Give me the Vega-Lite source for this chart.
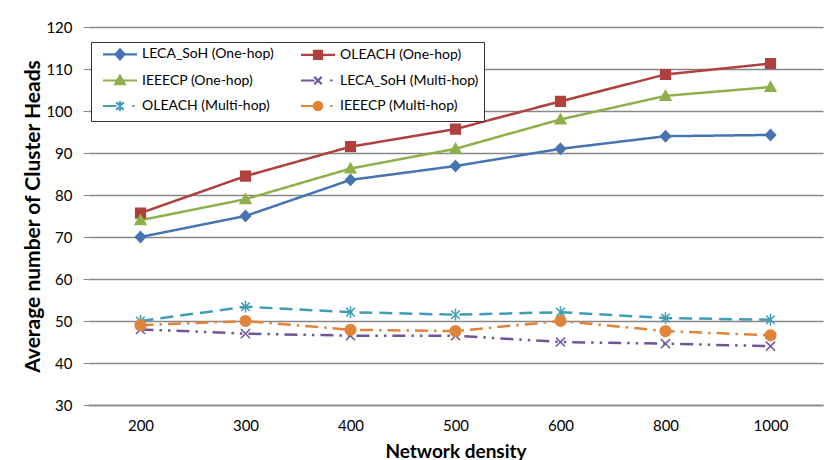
{
  "$schema": "https://vega.github.io/schema/vega-lite/v6.json",
  "autosize": "none",
  "width": 735,
  "height": 378,
  "padding": {"left": 88, "top": 27, "right": 5, "bottom": 55},
  "background": "white",
  "config": {
    "font": "Lato",
    "view": {"stroke": null},
    "axis": {"labelFont": "Lato", "titleFont": "Lato", "labelColor": "#000", "titleColor": "#000"},
    "legend": {"symbolOpacity": 1}
  },
  "data": {
    "values": [
      {"density": "200", "series": "LECA_SoH (One-hop)", "value": 70},
      {"density": "300", "series": "LECA_SoH (One-hop)", "value": 75},
      {"density": "400", "series": "LECA_SoH (One-hop)", "value": 83.6},
      {"density": "500", "series": "LECA_SoH (One-hop)", "value": 86.9},
      {"density": "600", "series": "LECA_SoH (One-hop)", "value": 91},
      {"density": "800", "series": "LECA_SoH (One-hop)", "value": 94},
      {"density": "1000", "series": "LECA_SoH (One-hop)", "value": 94.3},
      {"density": "200", "series": "OLEACH (One-hop)", "value": 75.7},
      {"density": "300", "series": "OLEACH (One-hop)", "value": 84.5},
      {"density": "400", "series": "OLEACH (One-hop)", "value": 91.5},
      {"density": "500", "series": "OLEACH (One-hop)", "value": 95.7},
      {"density": "600", "series": "OLEACH (One-hop)", "value": 102.3},
      {"density": "800", "series": "OLEACH (One-hop)", "value": 108.7},
      {"density": "1000", "series": "OLEACH (One-hop)", "value": 111.3},
      {"density": "200", "series": "IEEECP (One-hop)", "value": 74},
      {"density": "300", "series": "IEEECP (One-hop)", "value": 79},
      {"density": "400", "series": "IEEECP (One-hop)", "value": 86.3},
      {"density": "500", "series": "IEEECP (One-hop)", "value": 91},
      {"density": "600", "series": "IEEECP (One-hop)", "value": 98},
      {"density": "800", "series": "IEEECP (One-hop)", "value": 103.6},
      {"density": "1000", "series": "IEEECP (One-hop)", "value": 105.7},
      {"density": "200", "series": "LECA_SoH (Multi-hop)", "value": 48},
      {"density": "300", "series": "LECA_SoH (Multi-hop)", "value": 47},
      {"density": "400", "series": "LECA_SoH (Multi-hop)", "value": 46.5},
      {"density": "500", "series": "LECA_SoH (Multi-hop)", "value": 46.5},
      {"density": "600", "series": "LECA_SoH (Multi-hop)", "value": 45},
      {"density": "800", "series": "LECA_SoH (Multi-hop)", "value": 44.6},
      {"density": "1000", "series": "LECA_SoH (Multi-hop)", "value": 44},
      {"density": "200", "series": "OLEACH (Multi-hop)", "value": 50},
      {"density": "300", "series": "OLEACH (Multi-hop)", "value": 53.4},
      {"density": "400", "series": "OLEACH (Multi-hop)", "value": 52.1},
      {"density": "500", "series": "OLEACH (Multi-hop)", "value": 51.5},
      {"density": "600", "series": "OLEACH (Multi-hop)", "value": 52.1},
      {"density": "800", "series": "OLEACH (Multi-hop)", "value": 50.7},
      {"density": "1000", "series": "OLEACH (Multi-hop)", "value": 50.3},
      {"density": "200", "series": "IEEECP (Multi-hop)", "value": 49},
      {"density": "300", "series": "IEEECP (Multi-hop)", "value": 50},
      {"density": "400", "series": "IEEECP (Multi-hop)", "value": 47.9},
      {"density": "500", "series": "IEEECP (Multi-hop)", "value": 47.6},
      {"density": "600", "series": "IEEECP (Multi-hop)", "value": 50},
      {"density": "800", "series": "IEEECP (Multi-hop)", "value": 47.6},
      {"density": "1000", "series": "IEEECP (Multi-hop)", "value": 46.6}
    ]
  },
  "encoding": {
    "x": {
      "field": "density", "type": "ordinal", "sort": null,
      "scale": {"type": "point", "padding": 0.5},
      "axis": {
        "title": "Network density", "titleFontSize": 19, "titleFontWeight": "bold", "titlePadding": 9,
        "labelAngle": 0, "labelFontSize": 15, "labelPadding": 13,
        "ticks": false, "domainColor": "#888", "domainWidth": 1.3, "grid": false
      }
    },
    "y": {
      "field": "value", "type": "quantitative",
      "scale": {"domain": [30, 120], "nice": false, "zero": false},
      "axis": {
        "title": "Average number of Cluster Heads", "titleFontSize": 21, "titleFontWeight": "bold", "titlePadding": 2,
        "values": [30, 40, 50, 60, 70, 80, 90, 100, 110, 120],
        "labelFontSize": 15, "labelPadding": 11,
        "domain": false, "ticks": true, "tickSize": 5, "tickColor": "#888",
        "grid": true, "gridColor": "#888", "gridWidth": 1.3
      }
    }
  },
  "layer": [
    {
      "mark": {"type": "line", "strokeWidth": 2.5, "strokeCap": "butt"},
      "encoding": {
        "color": {
          "field": "series", "type": "nominal", "legend": null,
          "scale": {
            "domain": ["LECA_SoH (One-hop)", "OLEACH (One-hop)", "IEEECP (One-hop)", "LECA_SoH (Multi-hop)", "OLEACH (Multi-hop)", "IEEECP (Multi-hop)"],
            "range": ["#4674B0", "#B0403D", "#8EB04A", "#70559A", "#3F9DB5", "#E0843A"]
          }
        },
        "strokeDash": {
          "field": "series", "type": "nominal", "legend": null,
          "scale": {
            "domain": ["LECA_SoH (One-hop)", "OLEACH (One-hop)", "IEEECP (One-hop)", "LECA_SoH (Multi-hop)", "OLEACH (Multi-hop)", "IEEECP (Multi-hop)"],
            "range": [[1, 0], [1, 0], [1, 0], [13, 6, 2.5, 6, 2.5, 6], [13, 7], [13, 6, 2.5, 6]]
          }
        }
      }
    },
    {
      "mark": {"type": "point", "filled": true, "size": 115, "strokeWidth": 1.5, "opacity": 1},
      "encoding": {
        "fill": {
          "field": "series", "type": "nominal", "legend": null,
          "scale": {
            "domain": ["LECA_SoH (One-hop)", "OLEACH (One-hop)", "IEEECP (One-hop)", "LECA_SoH (Multi-hop)", "OLEACH (Multi-hop)", "IEEECP (Multi-hop)"],
            "range": ["#4674B0", "#B0403D", "#8EB04A", "#70559A", "#3F9DB5", "#E0843A"]
          }
        },
        "stroke": {
          "field": "series", "type": "nominal", "legend": null,
          "scale": {
            "domain": ["LECA_SoH (One-hop)", "OLEACH (One-hop)", "IEEECP (One-hop)", "LECA_SoH (Multi-hop)", "OLEACH (Multi-hop)", "IEEECP (Multi-hop)"],
            "range": ["#4674B0", "#B0403D", "#8EB04A", "#70559A", "#3F9DB5", "#E0843A"]
          }
        },
        "shape": {
          "field": "series", "type": "nominal", "legend": null,
          "scale": {
            "domain": ["LECA_SoH (One-hop)", "OLEACH (One-hop)", "IEEECP (One-hop)", "LECA_SoH (Multi-hop)", "OLEACH (Multi-hop)", "IEEECP (Multi-hop)"],
            "range": [
              "M0,-1L0.95,0L0,1L-0.95,0Z",
              "M-0.9,-0.9H0.9V0.9H-0.9Z",
              "M0,-1L1,0.8H-1Z",
              "M-0.85,-0.85L0.85,0.85M-0.85,0.85L0.85,-0.85",
              "M-0.8,-0.8L0.8,0.8M-0.8,0.8L0.8,-0.8M0,-1.1V1.1",
              "circle"
            ]
          }
        }
      }
    },
    {
      "mark": {"type": "point", "filled": true, "opacity": 0, "size": 100},
      "encoding": {
        "fill": {
          "field": "series", "type": "nominal",
          "scale": {
            "domain": ["LECA_SoH (One-hop)", "OLEACH (One-hop)", "IEEECP (One-hop)", "LECA_SoH (Multi-hop)", "OLEACH (Multi-hop)", "IEEECP (Multi-hop)"],
            "range": ["#4674B0", "#B0403D", "#8EB04A", "#70559A", "#3F9DB5", "#E0843A"]
          },
          "legend": {
            "title": null, "orient": "none", "legendX": 3, "legendY": 15, "columns": 2,
            "direction": "horizontal",
            "fillColor": "white", "strokeColor": "#333", "padding": 5,
            "labelFontSize": 14, "labelFont": "Lato", "labelColor": "#000", "labelOffset": 32,
            "symbolSize": 100, "symbolStrokeWidth": 2.2, "rowPadding": 6.5, "columnPadding": 20,
            "symbolOpacity": 1
          }
        },
        "stroke": {
          "field": "series", "type": "nominal",
          "scale": {
            "domain": ["LECA_SoH (One-hop)", "OLEACH (One-hop)", "IEEECP (One-hop)", "LECA_SoH (Multi-hop)", "OLEACH (Multi-hop)", "IEEECP (Multi-hop)"],
            "range": ["#4674B0", "#B0403D", "#8EB04A", "#70559A", "#3F9DB5", "#E0843A"]
          },
          "legend": {
            "title": null, "orient": "none", "legendX": 3, "legendY": 15, "columns": 2,
            "direction": "horizontal",
            "fillColor": "white", "strokeColor": "#333", "padding": 5,
            "labelFontSize": 14, "labelFont": "Lato", "labelColor": "#000", "labelOffset": 32,
            "symbolSize": 100, "symbolStrokeWidth": 2.2, "rowPadding": 6.5, "columnPadding": 20,
            "symbolOpacity": 1
          }
        },
        "shape": {
          "field": "series", "type": "nominal",
          "scale": {
            "domain": ["LECA_SoH (One-hop)", "OLEACH (One-hop)", "IEEECP (One-hop)", "LECA_SoH (Multi-hop)", "OLEACH (Multi-hop)", "IEEECP (Multi-hop)"],
            "range": [
              "M0,0H6.8M3.4,-1L4.3,0L3.4,1L2.5,0Z",
              "M0,0H6.8M2.6,-0.8H4.2V0.8H2.6Z",
              "M0,0H6.8M3.4,-0.95L4.35,0.75H2.45Z",
              "M0,0H2.7M2.65,-0.75L4.15,0.75M2.65,0.75L4.15,-0.75M5.85,0H6.3",
              "M0,0H2.7M2.65,-0.75L4.15,0.75M2.65,0.75L4.15,-0.75M3.4,-1V1M5.85,0H6.3",
              "M0,0H2.7M2.55,0A0.85,0.85 0 1,0 4.25,0A0.85,0.85 0 1,0 2.55,0ZM5.85,0H6.3"
            ]
          },
          "legend": {
            "title": null, "orient": "none", "legendX": 3, "legendY": 15, "columns": 2,
            "direction": "horizontal",
            "fillColor": "white", "strokeColor": "#333", "padding": 5,
            "labelFontSize": 14, "labelFont": "Lato", "labelColor": "#000", "labelOffset": 32,
            "symbolSize": 100, "symbolStrokeWidth": 2.2, "rowPadding": 6.5, "columnPadding": 20,
            "symbolOpacity": 1
          }
        }
      }
    }
  ],
  "resolve": {"scale": {"fill": "independent", "stroke": "independent", "shape": "independent"}}
}
